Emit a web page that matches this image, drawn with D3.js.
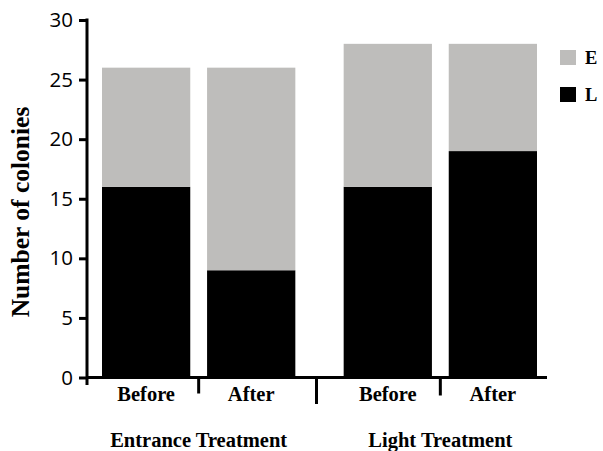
<!DOCTYPE html>
<html><head><meta charset="utf-8">
<script src="https://cdn.jsdelivr.net/npm/d3@7"></script>
<style>body{margin:0;background:#fff}</style>
</head><body>
<script>
const groups = ["Entrance Treatment", "Light Treatment"];
const phases = ["Before", "After"];
const seriesNames = ["L", "E"];
const valuesL = [16, 9, 16, 19];
const valuesE = [10, 17, 12, 9];
const yTicks = [0, 5, 10, 15, 20, 25, 30];

const W = 603, H = 451;
const colors = {L: "#000000", E: "#bebdbb"};
const serif = "'Liberation Serif','Times New Roman',serif";

const svg = d3.select("body").append("svg").attr("width", W).attr("height", H);

const y = d3.scaleLinear().domain([0, 30]).range([377.5, 20]);
const xg = d3.scaleBand().domain(groups).range([102, 537]).paddingInner(0.2).paddingOuter(0);
const xp = d3.scaleBand().domain(phases).range([0, xg.bandwidth()]).paddingInner(0.16);

const rows = [];
groups.forEach((g, gi) => phases.forEach((p, pi) => {
  const i = gi * 2 + pi;
  rows.push({group: g, phase: p, L: valuesL[i], E: valuesE[i]});
}));
const stacked = d3.stack().keys(seriesNames)(rows);

svg.append("g").selectAll("g").data(stacked).join("g")
  .attr("fill", d => colors[d.key])
  .selectAll("rect").data(d => d).join("rect")
  .attr("x", d => xg(d.data.group) + xp(d.data.phase))
  .attr("width", xp.bandwidth())
  .attr("y", d => y(d[1]))
  .attr("height", d => y(d[0]) - y(d[1]));

// Y axis
const yAxis = svg.append("g").attr("transform", "translate(87,0)")
  .call(d3.axisLeft(y).tickValues(yTicks).tickSize(8).tickPadding(6));
yAxis.select(".domain").remove();
yAxis.selectAll(".tick line").attr("stroke", "#000").attr("stroke-width", 3);
yAxis.selectAll(".tick text").attr("font-family", "'Open Sans',sans-serif").attr("font-size", 20.5).attr("fill", "#000");
svg.append("line").attr("x1", 87).attr("x2", 87).attr("y1", y(30) - 1.5).attr("y2", 385)
  .attr("stroke", "#000").attr("stroke-width", 3);

// X baseline
svg.append("line").attr("x1", 87).attr("x2", 547).attr("y1", y(0)).attr("y2", y(0))
  .attr("stroke", "#000").attr("stroke-width", 3);

// x ticks: between phases inside a group, and between groups
const barCenter = r => xg(r.group) + xp(r.phase) + xp.bandwidth() / 2;
const innerTicks = groups.map(g => (xg(g) + xp("Before") + xp.bandwidth() + xg(g) + xp("After")) / 2);
const innerLen = [16, 18];
innerTicks.forEach((t, i) => svg.append("line").attr("x1", t).attr("x2", t)
  .attr("y1", y(0)).attr("y2", y(0) + innerLen[i]).attr("stroke", "#000").attr("stroke-width", 3));
const groupTick = (xg(groups[0]) + xg.bandwidth() + xg(groups[1])) / 2 - 3;
svg.append("line").attr("x1", groupTick).attr("x2", groupTick)
  .attr("y1", y(0) - 1.5).attr("y2", 404).attr("stroke", "#000").attr("stroke-width", 3);

// phase labels
svg.append("g").selectAll("text").data(rows).join("text")
  .attr("x", barCenter).attr("y", 401)
  .attr("text-anchor", "middle").attr("font-family", serif).attr("font-weight", "bold")
  .attr("font-size", 20.5).text(d => d.phase);

// group labels
svg.append("g").selectAll("text").data(groups).join("text")
  .attr("x", g => xg(g) + xg.bandwidth() / 2).attr("y", 447)
  .attr("text-anchor", "middle").attr("font-family", serif).attr("font-weight", "bold")
  .attr("font-size", 20.5).text(g => g);

// y label
svg.append("text").attr("transform", "translate(29,212) rotate(-90)")
  .attr("text-anchor", "middle").attr("font-family", serif).attr("font-weight", "bold")
  .attr("font-size", 25.5).text("Number of colonies");

// legend
const legendKeys = ["E", "L"];
const lg = svg.append("g").selectAll("g").data(legendKeys).join("g")
  .attr("transform", (d, i) => `translate(560,${50 + i * 37})`);
lg.append("rect").attr("width", 16).attr("height", 15).attr("fill", d => colors[d]);
lg.append("text").attr("x", 25).attr("y", 14).attr("font-family", serif).attr("font-weight", "bold")
  .attr("font-size", 18.5).text(d => d);
</script>
</body></html>
